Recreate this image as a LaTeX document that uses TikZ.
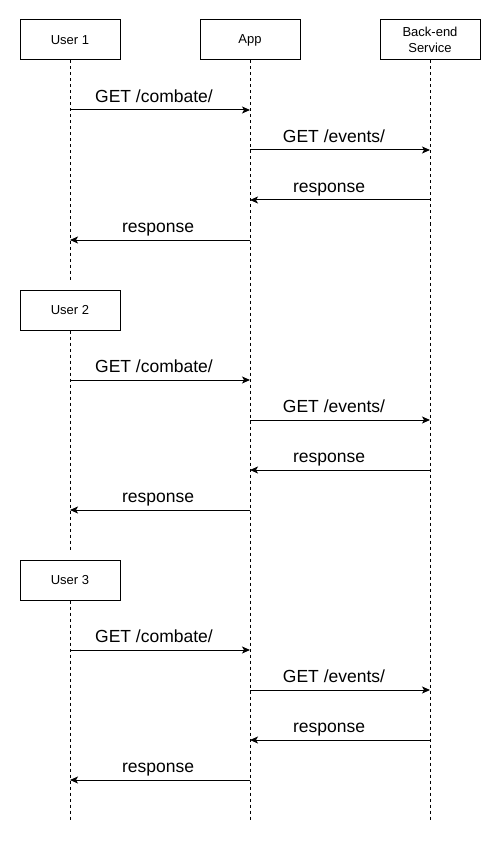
\documentclass[tikz,border=0pt]{standalone}
\usepackage{fontspec}
\setmainfont{Liberation Sans}
\usetikzlibrary{arrows.meta}
\begin{document}
\begin{tikzpicture}[x=1pt,y=-1pt,
  actor/.style={draw=black,line width=1pt,fill=white,minimum width=100pt,minimum height=40pt,inner sep=0pt,font=\fontsize{13}{16}\selectfont,align=center},
  life/.style={line width=1pt,dash pattern=on 3pt off 3pt},
  msg/.style={line width=1pt,-{Stealth[length=8pt,width=7pt,inset=2pt]}},
  lbl/.style={font=\fontsize{17.5}{20}\selectfont,anchor=base,inner sep=0pt}]
\useasboundingbox (0,0) rectangle (501,842);
% actors
\node[actor] (u1) at (70,40) {User 1};
\node[actor] (app) at (250,40) {App};
\node[actor] (be) at (430,40) {Back-end\\Service};
\node[actor] (u2) at (70,310) {User 2};
\node[actor] (u3) at (70,580) {User 3};
% lifeline ends
\coordinate (u1e) at (70,280);
\coordinate (u2e) at (70,550);
\coordinate (u3e) at (70,820);
\coordinate (appe) at (250,820);
\coordinate (bee) at (430,820);
\draw[life] (u1.south) -- (u1e);
\draw[life] (u2.south) -- (u2e);
\draw[life] (u3.south) -- (u3e);
\draw[life] (app.south) -- (appe);
\draw[life] (be.south) -- (bee);
% messages
\foreach \g/\o in {a/0,b/270,c/540}{
  \coordinate (\g1s) at (70,110+\o);  \coordinate (\g1e) at (250,110+\o);
  \coordinate (\g2s) at (250,150+\o); \coordinate (\g2e) at (430,150+\o);
  \coordinate (\g3s) at (430,200+\o); \coordinate (\g3e) at (250,200+\o);
  \coordinate (\g4s) at (250,240+\o); \coordinate (\g4e) at (70,240+\o);
  \draw[msg] (\g1s) -- (\g1e);
  \draw[msg] (\g2s) -- (\g2e);
  \draw[msg] (\g3s) -- (\g3e);
  \draw[msg] (\g4s) -- (\g4e);
  \node[lbl] (\g1l) at (154,102.5+\o) {GET /combate/};
  \node[lbl] (\g2l) at (334,142.5+\o) {GET /events/};
  \node[lbl] (\g3l) at (329,192.5+\o) {response};
  \node[lbl] (\g4l) at (158,232.5+\o) {response};
}
\end{tikzpicture}
\end{document}
